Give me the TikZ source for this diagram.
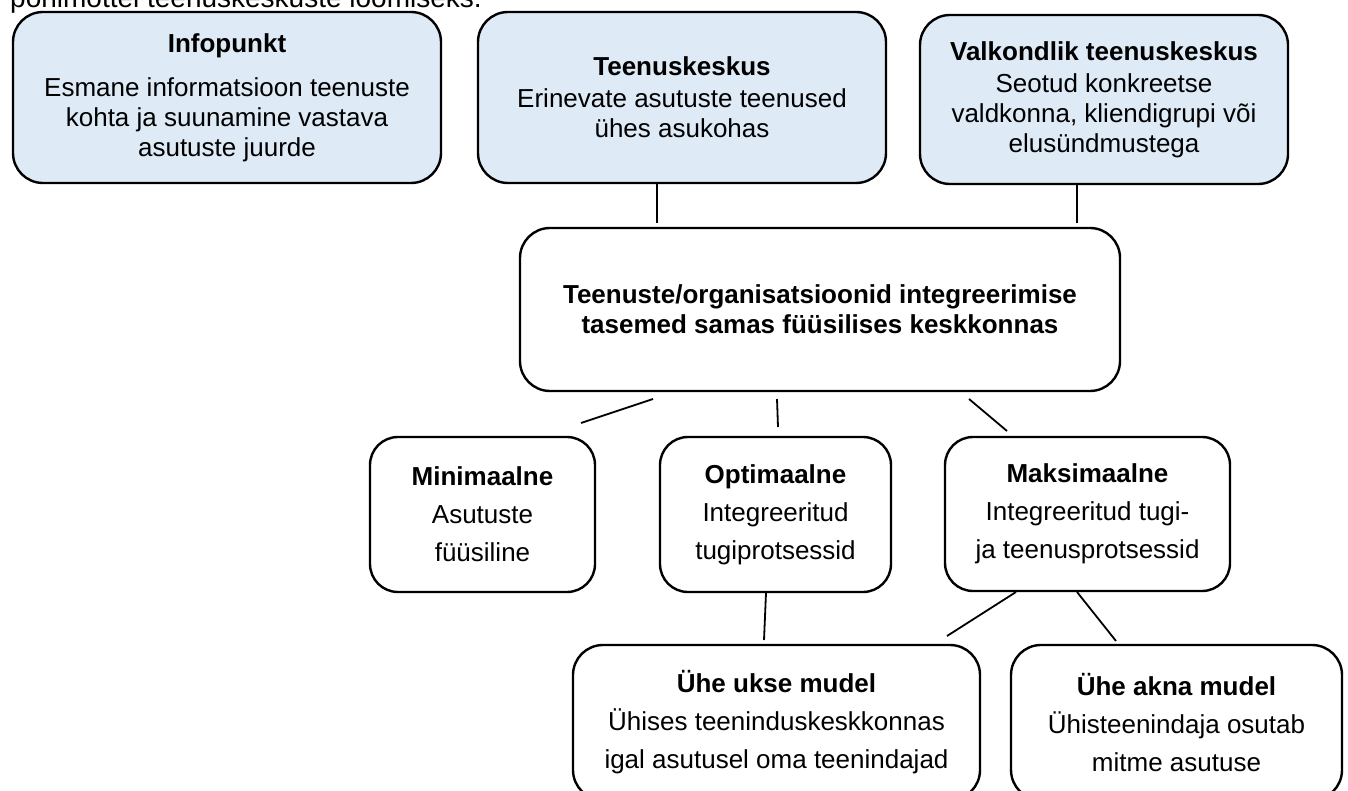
\documentclass[tikz,border=0pt]{standalone}
\usepackage{fontspec}
\setmainfont{Liberation Sans}
\usetikzlibrary{calc}
\definecolor{boxblue}{HTML}{DEEAF6}
\tikzset{
  box/.style={draw=black, line width=2.4pt, rounded corners=30pt, inner sep=0pt,
    align=center, font=\fontsize{26}{30}\selectfont},
  bluebox/.style={box, fill=boxblue},
  midbox/.style={box, fill=white, font=\fontsize{26}{38}\selectfont},
  conn/.style={draw=black, line width=1.8pt}
}
\begin{document}
\begin{tikzpicture}[x=1pt,y=-1pt]
\path[use as bounding box, clip] (0,0) rectangle (1348,791);
\fill[white] (0,0) rectangle (1348,791);
\node[anchor=base west, font=\fontsize{28}{32}\selectfont, inner sep=0pt] (toptext) at (10,7.5) {põhimõttel teenuskeskuste loomiseks.};

\node[bluebox, minimum width=428pt, minimum height=171pt] (info) at (227,97.5)
  {\textbf{Infopunkt}\\[14pt]Esmane informatsioon teenuste\\kohta ja suunamine vastava\\asutuste juurde};
\node[bluebox, minimum width=408pt, minimum height=171pt] (teenus) at (682,97.5)
  {\textbf{Teenuskeskus}\\[2pt]Erinevate asutuste teenused\\ühes asukohas};
\node[bluebox, minimum width=368pt, minimum height=169pt] (valk) at (1104,99.5)
  {\textbf{Valkondlik teenuskeskus}\\[2pt]Seotud konkreetse\\valdkonna, kliendigrupi või\\elusündmustega};

\node[box, fill=white, minimum width=600pt, minimum height=163pt] (center) at (820,309.5)
  {\textbf{Teenuste/organisatsioonid integreerimise}\\\textbf{tasemed samas füüsilises keskkonnas}};

\node[midbox, minimum width=225pt, minimum height=155pt, rounded corners=28pt] (mini) at (482.5,514.5)
  {\textbf{Minimaalne}\\Asutuste\\füüsiline};
\node[midbox, minimum width=231pt, minimum height=155pt, rounded corners=28pt] (opti) at (775.5,514.5)
  {\textbf{Optimaalne}\\Integreeritud\\tugiprotsessid};
\node[midbox, minimum width=285pt, minimum height=154pt, rounded corners=28pt] (maks) at (1087.5,514)
  {\textbf{Maksimaalne}\\Integreeritud tugi-\\ja teenusprotsessid};

\node[midbox, minimum width=407pt, minimum height=155pt] (uks) at (776.5,722.5)
  {\textbf{Ühe ukse mudel}\\Ühises teeninduskeskkonnas\\igal asutusel oma teenindajad};
\node[midbox, minimum width=331pt, minimum height=155pt] (aken) at (1176.5,722.5)
  {\textbf{Ühe akna mudel}\\Ühisteenindaja osutab\\mitme asutuse};

% connector end points
\coordinate (t1a) at (657,184);   \coordinate (t1b) at (657,223);
\coordinate (t2a) at (1077,184);  \coordinate (t2b) at (1077,223);
\coordinate (c1a) at (653,399);   \coordinate (c1b) at (581,423);
\coordinate (c2a) at (777,399);   \coordinate (c2b) at (778,427);
\coordinate (c3a) at (969,399);   \coordinate (c3b) at (1007,431);
\coordinate (o1a) at (766,593);   \coordinate (o1b) at (764,640);
\coordinate (m1a) at (1016,592);  \coordinate (m1b) at (947,636);
\coordinate (m2a) at (1077,592);  \coordinate (m2b) at (1116,641);

\draw[conn] (t1a) -- (t1b);
\draw[conn] (t2a) -- (t2b);
\draw[conn] (c1a) -- (c1b);
\draw[conn] (c2a) -- (c2b);
\draw[conn] (c3a) -- (c3b);
\draw[conn] (o1a) -- (o1b);
\draw[conn] (m1a) -- (m1b);
\draw[conn] (m2a) -- (m2b);
\end{tikzpicture}
\end{document}
